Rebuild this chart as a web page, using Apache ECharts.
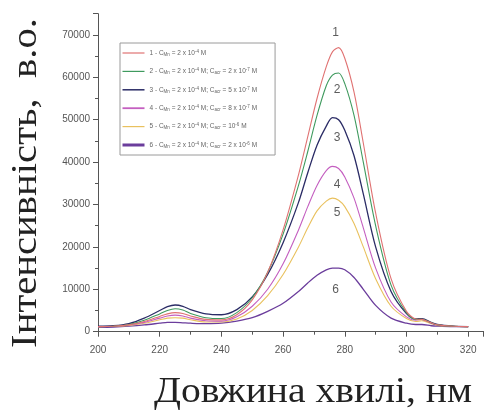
<!DOCTYPE html>
<html>
<head>
<meta charset="utf-8">
<script src="https://cdn.jsdelivr.net/npm/echarts@6/dist/echarts.min.js"></script>
<style>
  html, body { margin: 0; padding: 0; background: #fff; }
  #chart { width: 496px; height: 415px; }
</style>
</head>
<body>
<div id="chart"></div>
<script>
// Wavelength grid (nm) shared by all spectra
const wavelengths = [200, 205, 210, 215, 220, 222.5, 225, 227.5, 230, 235, 240, 245, 250, 255, 260, 265, 268, 271, 274, 276, 278, 280, 283, 286, 290, 295, 300, 303, 305, 308, 310, 315, 320];

// Fluorescence intensity, arbitrary units
const spectrum1 = [1200, 1300, 1600, 2400, 3600, 4200, 4500, 4300, 3700, 2900, 2800, 4000, 7500, 14000, 24000, 37000, 46000, 55000, 62500, 66000, 67000, 64500, 56500, 44500, 28000, 12500, 4800, 3000, 2900, 2100, 1600, 1300, 1200];
const spectrum2 = [1200, 1300, 1700, 2700, 4200, 5000, 5400, 5100, 4300, 3300, 3100, 4500, 8000, 14000, 23000, 34500, 42500, 51000, 58000, 60500, 61000, 58500, 51000, 40000, 25000, 11000, 4500, 2900, 2900, 2100, 1600, 1300, 1200];
const spectrum3 = [1300, 1400, 1900, 3200, 5000, 5900, 6300, 6000, 5200, 4200, 4000, 5200, 8200, 13500, 21000, 30500, 37500, 44000, 48500, 50500, 50000, 47500, 41500, 32500, 20000, 9500, 4300, 3000, 3100, 2200, 1700, 1300, 1200];
const spectrum4 = [1200, 1300, 1600, 2200, 3200, 3700, 3900, 3700, 3200, 2600, 2500, 3500, 6000, 10000, 16000, 24000, 29500, 34500, 38000, 39000, 38500, 36500, 31500, 24500, 15000, 7000, 3500, 2700, 2900, 2000, 1600, 1300, 1200];
const spectrum5 = [1200, 1300, 1500, 2000, 2800, 3200, 3300, 3200, 2800, 2300, 2300, 3000, 5000, 8500, 13500, 20000, 24500, 28500, 30800, 31500, 31000, 29500, 25500, 20000, 12500, 6000, 3100, 2400, 2600, 1900, 1500, 1300, 1200];
const spectrum6 = [1000, 1100, 1300, 1600, 2000, 2200, 2200, 2100, 2000, 1900, 2000, 2500, 3300, 4800, 6700, 9500, 11500, 13300, 14600, 15000, 15000, 14600, 12800, 10000, 6200, 3200, 2000, 1700, 1700, 1400, 1300, 1200, 1200];

// Legend entries (markup: _{..} subscript, ^{..} superscript)
const seriesNames = [
  '1 - C_{Mn} = 2 x 10^{-4} M',
  '2 - C_{Mn} = 2 x 10^{-4} M; C_{acr} = 2 x 10^{-7} M',
  '3 - C_{Mn} = 2 x 10^{-4} M; C_{acr} = 5 x 10^{-7} M',
  '4 - C_{Mn} = 2 x 10^{-4} M; C_{acr} = 8 x 10^{-7} M',
  '5 - C_{Mn} = 2 x 10^{-4} M; C_{acr} = 10^{-6} M',
  '6 - C_{Mn} = 2 x 10^{-4} M; C_{acr} = 2 x 10^{-6} M'
];

// Curve number tags placed near each peak: [wavelength, intensity, text]
const curveTags = [
  [277, 70500, '1'],
  [277.5, 57000, '2'],
  [277.5, 45700, '3'],
  [277.5, 34600, '4'],
  [277.5, 28000, '5'],
  [277, 9800, '6']
];

const xTicks = { min: 200, max: 325, interval: 20 };
const yTicks = { min: 0, max: 75000, interval: 10000 };

const spectra = [spectrum1, spectrum2, spectrum3, spectrum4, spectrum5, spectrum6];
const colors = ['#e07272', '#3f9a5e', '#2b2c66', '#c45fc0', '#e9c15e', '#6b3d9c'];
const widths = [1.1, 1.1, 1.3, 1.1, 1.1, 1.3];
const legendWidths = [1.2, 1.2, 1.5, 1.8, 1.2, 3];

function toRich(s) {
  return s.replace(/_\{([^}]*)\}/g, '{sub|$1}').replace(/\^\{([^}]*)\}/g, '{sup|$1}');
}

const lineSeries = spectra.map((vals, i) => ({
  name: seriesNames[i],
  type: 'line',
  data: wavelengths.map((w, k) => [w, vals[k]]),
  smooth: 0.3,
  symbol: 'none',
  lineStyle: { color: colors[i], width: widths[i] },
  itemStyle: { color: colors[i] },
  z: 2 + (6 - i)
}));

const tagSeries = {
  name: 'tags',
  type: 'scatter',
  data: curveTags,
  symbolSize: 0,
  silent: true,
  label: {
    show: true,
    position: 'inside',
    formatter: p => p.value[2],
    fontFamily: 'Liberation Sans',
    fontSize: 12,
    color: '#333'
  },
  z: 10
};

const chart = echarts.init(document.getElementById('chart'), null, { renderer: 'canvas' });
chart.setOption({
  animation: false,
  backgroundColor: '#fff',
  grid: { left: 98, top: 13.7, right: 12.4, bottom: 83.3, containLabel: false },
  legend: {
    orient: 'vertical',
    left: 120,
    top: 43,
    itemWidth: 22,
    itemHeight: 8,
    itemGap: 10.4,
    padding: [6, 18, 6, 1],
    borderColor: '#9a9a9a',
    borderWidth: 1,
    backgroundColor: '#fff',
    itemStyle: { opacity: 0 },
    data: seriesNames.map((n, i) => ({ name: n, lineStyle: { width: legendWidths[i] } })),
    formatter: n => toRich(n),
    textStyle: {
      fontFamily: 'Liberation Sans',
      fontSize: 6.5,
      lineHeight: 8,
      color: '#666',
      rich: {
        sub: { fontSize: 4.5, color: '#666', lineHeight: 8, verticalAlign: 'bottom', padding: [3, 0, 0, 0] },
        sup: { fontSize: 4.5, color: '#666', lineHeight: 8, verticalAlign: 'top', padding: [0, 0, 3, 0] }
      }
    }
  },
  xAxis: {
    type: 'value',
    min: xTicks.min,
    max: xTicks.max,
    interval: xTicks.interval,
    splitLine: { show: false },
    axisLine: { onZero: false, lineStyle: { color: '#555', width: 1 } },
    axisTick: { length: 5, lineStyle: { color: '#555' } },
    minorTick: { show: true, splitNumber: 2, length: 3, lineStyle: { color: '#555' } },
    axisLabel: { showMaxLabel: false, margin: 14, fontFamily: 'Liberation Sans', fontSize: 10, color: '#555' }
  },
  yAxis: {
    type: 'value',
    min: yTicks.min,
    max: yTicks.max,
    interval: yTicks.interval,
    splitLine: { show: false },
    axisLine: { show: true, onZero: false, lineStyle: { color: '#555', width: 1 } },
    axisTick: { show: true, length: 5, lineStyle: { color: '#555' } },
    minorTick: { show: true, splitNumber: 2, length: 3, lineStyle: { color: '#555' } },
    axisLabel: {
      showMaxLabel: false, margin: 8, fontFamily: 'Liberation Sans', fontSize: 10, color: '#555',
      formatter: v => String(v)
    }
  },
  graphic: [
    {
      type: 'text',
      x: 45,
      y: 183,
      rotation: Math.PI / 2,
      scaleX: 1.13,
      style: {
        text: 'Інтенсивність,  в.о.',
        font: '36px "Liberation Serif"',
        fill: '#222',
        textAlign: 'center',
        textVerticalAlign: 'bottom'
      }
    },
    {
      type: 'text',
      x: 313,
      y: 393,
      scaleX: 1.1,
      style: {
        text: 'Довжина хвилі, нм',
        font: '36px "Liberation Serif"',
        fill: '#222',
        textAlign: 'center',
        textVerticalAlign: 'middle'
      }
    }
  ],
  series: lineSeries.concat([tagSeries])
});
</script>
</body>
</html>
